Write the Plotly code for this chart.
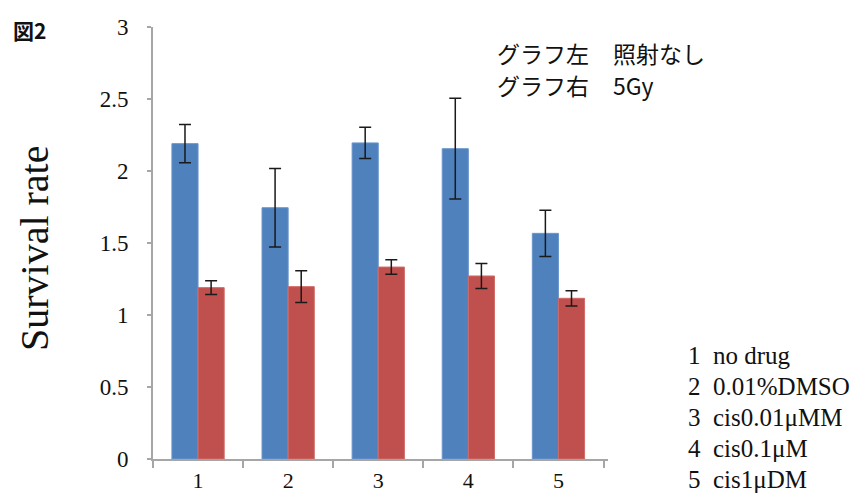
import plotly.graph_objects as go

categories = ["1", "2", "3", "4", "5"]
no_irradiation = [2.19, 1.745, 2.195, 2.155, 1.567]
no_irradiation_err = [0.133, 0.272, 0.108, 0.35, 0.16]
gy5 = [1.19, 1.197, 1.333, 1.271, 1.116]
gy5_err = [0.048, 0.11, 0.05, 0.087, 0.053]
y_ticks = [0, 0.5, 1, 1.5, 2, 2.5, 3]
y_tick_labels = ["0", "0.5", "1", "1.5", "2", "2.5", "3"]
legend_numbers = ["1", "2", "3", "4", "5"]
legend_names = ["no drug", "0.01%DMSO", "cis0.01μMM", "cis0.1μM", "cis1μDM"]

W, H = 855, 495
L, R, T, B = 153, 608, 27, 459

def px(x):
    return (x - L) / (R - L)

def py(y):
    return (B - y) / (B - T)

serif = "Liberation Serif, Times New Roman, serif"
cjk = "Noto Sans CJK JP, sans-serif"

fig = go.Figure()
fig.add_trace(go.Bar(
    x=categories, y=no_irradiation, name="照射なし",
    marker=dict(color="#4F81BD", line=dict(color="#6A95CC", width=1)),
    error_y=dict(type="data", array=no_irradiation_err, visible=True,
                 color="#1a1a1a", thickness=1.5, width=6),
))
fig.add_trace(go.Bar(
    x=categories, y=gy5, name="5Gy",
    marker=dict(color="#C0504D", line=dict(color="#D06A67", width=1)),
    error_y=dict(type="data", array=gy5_err, visible=True,
                 color="#1a1a1a", thickness=1.5, width=6),
))

annotations = [
    dict(x=px(11), y=py(30), text="<b>図2</b>", xanchor="left", yanchor="middle",
         font=dict(family=cjk, size=21, color="#111")),
    dict(x=px(34), y=py(248), text="Survival rate", textangle=-90,
         xanchor="center", yanchor="middle",
         font=dict(family=serif, size=40, color="#111")),
    dict(x=px(495), y=py(53), text="グラフ左", xanchor="left", yanchor="middle",
         font=dict(family=cjk, size=23, color="#111")),
    dict(x=px(611), y=py(53), text="照射なし", xanchor="left", yanchor="middle",
         font=dict(family=cjk, size=23, color="#111")),
    dict(x=px(495), y=py(85), text="グラフ右", xanchor="left", yanchor="middle",
         font=dict(family=cjk, size=23, color="#111")),
    dict(x=px(611), y=py(85), text="5Gy", xanchor="left", yanchor="middle",
         font=dict(family=cjk, size=23, color="#111")),
]
for i, (n, name) in enumerate(zip(legend_numbers, legend_names)):
    yc = 355 + i * 31.2
    annotations.append(dict(x=px(686), y=py(yc), text=n, xanchor="left", yanchor="middle",
                            font=dict(family=serif, size=25, color="#111")))
    annotations.append(dict(x=px(711), y=py(yc), text=name, xanchor="left", yanchor="middle",
                            font=dict(family=serif, size=25, color="#111")))
for a in annotations:
    a.update(xref="paper", yref="paper", showarrow=False)

fig.update_layout(
    width=W, height=H,
    margin=dict(l=L, r=W - R, t=T, b=H - B, pad=0),
    paper_bgcolor="white", plot_bgcolor="white",
    barmode="group", bargap=0.42, bargroupgap=0,
    showlegend=False,
    annotations=annotations,
    xaxis=dict(
        type="category", range=[-0.5, 4.55], automargin=False,
        showline=True, linecolor="#A6A6A6", linewidth=2,
        ticks="outside", tickson="boundaries", ticklen=7, tickcolor="#A6A6A6", tickwidth=1.5,
        showgrid=False, zeroline=False,
        tickfont=dict(family=serif, size=22, color="#111"),
        ticklabelstandoff=1,
    ),
    yaxis=dict(
        range=[0, 3], tickvals=y_ticks, ticktext=y_tick_labels, automargin=False,
        showline=True, linecolor="#A6A6A6", linewidth=2,
        ticks="outside", ticklen=4, tickcolor="#A6A6A6", tickwidth=1.5,
        showgrid=False, zeroline=False,
        tickfont=dict(family=serif, size=23, color="#111"),
        ticklabelstandoff=14,
    ),
)

fig.write_html("out.html")
